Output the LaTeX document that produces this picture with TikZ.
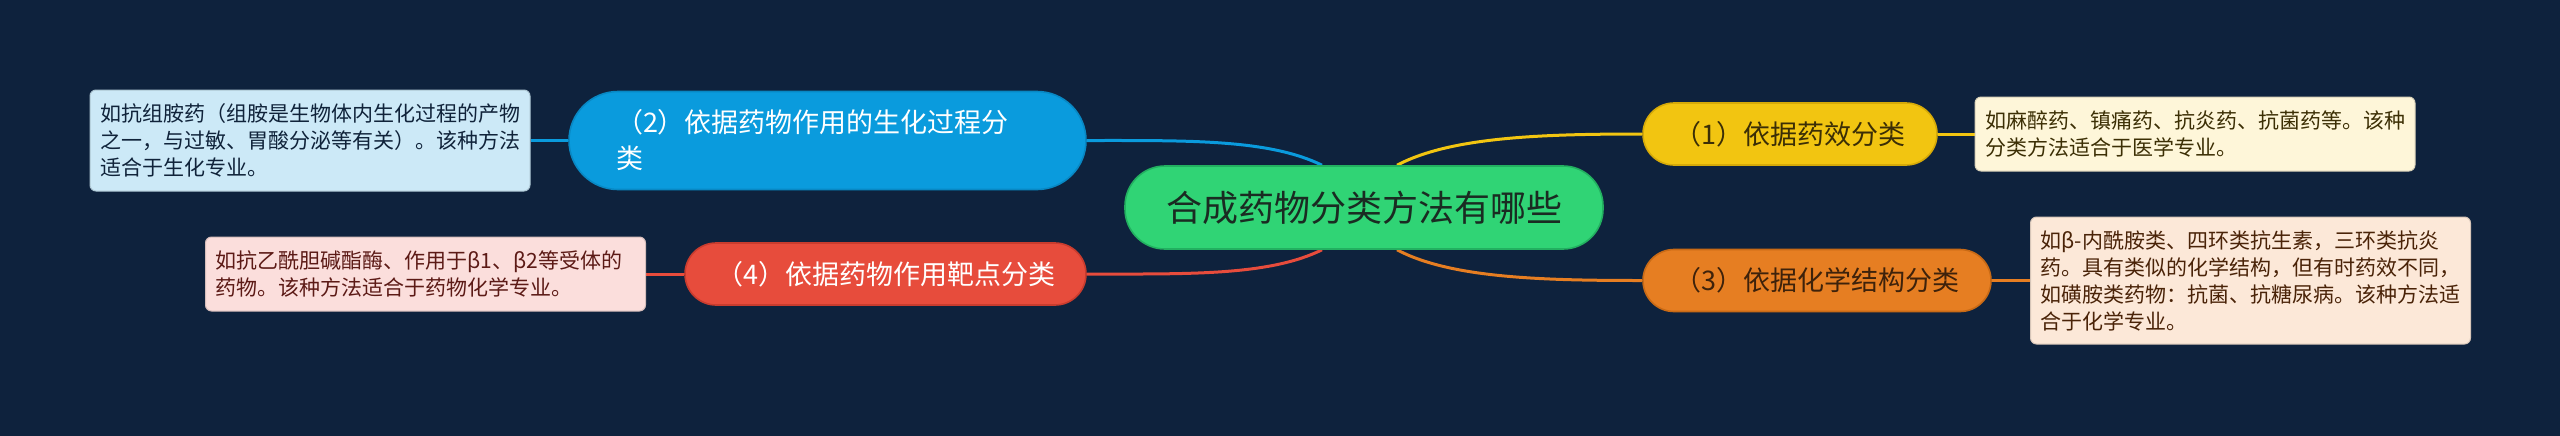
\documentclass[tikz,border=0pt]{standalone}
\usepackage{fontspec}
\setmainfont{Noto Sans CJK SC}
\usetikzlibrary{backgrounds}
\definecolor{bg}{HTML}{0E223D}
\definecolor{cgreen}{HTML}{30D475}
\definecolor{cgreenD}{HTML}{22B060}
\definecolor{ctopic}{HTML}{1A2B22}
\definecolor{cyellow}{HTML}{F2C511}
\definecolor{cyellowD}{HTML}{D6AA08}
\definecolor{corange}{HTML}{E67E22}
\definecolor{corangeD}{HTML}{C96A15}
\definecolor{cred}{HTML}{E74C3C}
\definecolor{credD}{HTML}{C93C2E}
\definecolor{cblue}{HTML}{0A9BDD}
\definecolor{cblueD}{HTML}{0888C4}
\definecolor{tyellow}{HTML}{3B2E06}
\definecolor{torange}{HTML}{3E220B}
\definecolor{lblue}{HTML}{CCE9F7}
\definecolor{lyellow}{HTML}{FEF6D9}
\definecolor{lorange}{HTML}{FCE8D8}
\definecolor{lred}{HTML}{FBDEDC}
\definecolor{tlblue}{HTML}{10233A}
\definecolor{tlyellow}{HTML}{3C2F05}
\definecolor{tlorange}{HTML}{4A2308}
\definecolor{tlred}{HTML}{5C1A16}
\begin{document}
\begin{tikzpicture}[x=0.5pt,y=-0.5pt,
  topic/.style={fill=cgreen, draw=cgreenD, line width=0.8pt, rounded corners=20pt,
    minimum width=239pt, minimum height=41.5pt, inner sep=0pt, text=ctopic,
    font=\fontsize{18pt}{22pt}\selectfont},
  branch/.style={line width=0.8pt, rounded corners=15.5pt, minimum height=31pt,
    inner sep=0pt, font=\fontsize{13.5pt}{18pt}\selectfont},
  leafbox/.style={rounded corners=3pt, line width=0.5pt, inner xsep=5pt, inner ysep=0pt,
    text width=210pt, align=left, font=\fontsize{10.5pt}{13.5pt}\selectfont},
  link/.style={line width=1.5pt}]
\useasboundingbox (0,0) rectangle (2560,435);
% nodes
\node[topic] (c) at (1364,207.5) {合成药物分类方法有哪些};
\node[branch, fill=cyellow, draw=cyellowD, text=tyellow, minimum width=147pt] (y) at (1790,134) {（1）依据药效分类};
\node[branch, fill=corange, draw=corangeD, text=torange, minimum width=174pt] (o) at (1817,280.5) {（3）依据化学结构分类};
\node[branch, fill=cred, draw=credD, text=white, minimum width=200.5pt] (r) at (885.5,274) {（4）依据药物作用靶点分类};
\node[branch, fill=cblue, draw=cblueD, text=white, minimum height=49pt, rounded corners=24.5pt,
  text width=211.5pt, align=left, inner xsep=23.5pt] (b) at (827.5,140.5) {（2）依据药物作用的生化过程分\\类};
\node[leafbox, fill=lblue, draw=lblue!85!black, text=tlblue, minimum height=50.5pt] (bl) at (310,140.5)
  {如抗组胺药（组胺是生物体内生化过程的产物\\之一，与过敏、胃酸分泌等有关）。该种方法\\适合于生化专业。};
\node[leafbox, fill=lred, draw=lred!85!black, text=tlred, minimum height=37pt] (rl) at (425.5,274)
  {如抗乙酰胆碱酯酶、作用于β1、β2等受体的\\药物。该种方法适合于药物化学专业。};
\node[leafbox, fill=lyellow, draw=lyellow!85!black, text=tlyellow, minimum height=37pt] (yl) at (2195,134)
  {如麻醉药、镇痛药、抗炎药、抗菌药等。该种\\分类方法适合于医学专业。};
\node[leafbox, fill=lorange, draw=lorange!85!black, text=tlorange, minimum height=63.5pt] (ol) at (2250.5,280.5)
  {如β-内酰胺类、四环类抗生素，三环类抗炎\\药。具有类似的化学结构，但有时药效不同，\\如磺胺类药物：抗菌、抗糖尿病。该种方法适\\合于化学专业。};
% connectors
\begin{scope}[on background layer]
  \fill[bg] (-10,-10) rectangle (2570,445);
  \draw[link, cyellow] ([xshift=16.5pt]c.north) .. controls +(53,-28) and +(-103,0) .. (y.west);
  \draw[link, corange] ([xshift=16.5pt]c.south) .. controls +(53,28) and +(-103,0) .. (o.west);
  \draw[link, cblue] ([xshift=-21pt]c.north) .. controls +(-53,-26) and +(103,0) .. (b.east);
  \draw[link, cred] ([xshift=-21pt]c.south) .. controls +(-53,26) and +(103,0) .. (r.east);
  \draw[link, cyellow] (y.east) -- (yl.west);
  \draw[link, corange] (o.east) -- (ol.west);
  \draw[link, cblue] (bl.east) -- (b.west);
  \draw[link, cred] (rl.east) -- (r.west);
\end{scope}
\end{tikzpicture}
\end{document}
